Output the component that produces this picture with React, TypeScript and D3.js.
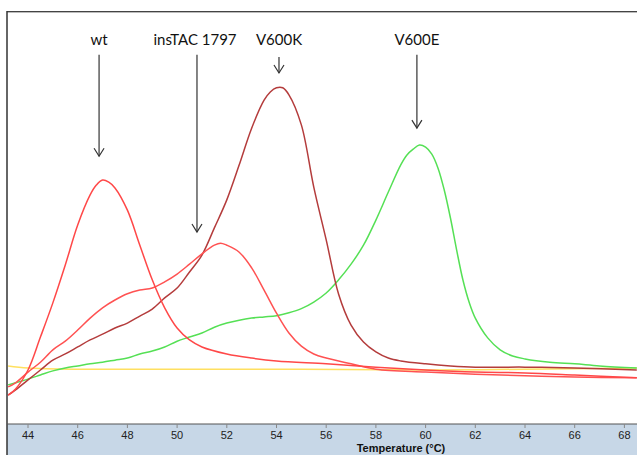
import React from "react";
import * as d3 from "d3";

type Pt = [number, number];

const wtCurve: Pt[] = [
  [43.2, 7.0], [43.5, 8.5], [44, 13.1], [44.5, 21.1], [45, 29.4], [45.5, 38.6],
  [46, 48.3], [46.5, 55.6], [46.75, 58.0], [47, 59.2], [47.25, 58.7], [47.5, 57.3],
  [48, 51.9], [48.5, 43.4], [49, 35.0], [49.5, 28.2], [50, 23.3], [50.5, 20.4],
  [51, 18.7], [52, 17.0], [53, 16.0], [54, 15.3], [56, 14.6], [58, 13.8],
  [60, 13.1], [62, 12.6], [64, 12.4], [66, 11.9], [68.5, 11.2],
];

const insTacCurve: Pt[] = [
  [43.2, 9.0], [43.5, 10.0], [44, 12.6], [44.5, 15.0], [45, 18.0], [45.5, 20.1],
  [46, 22.8], [46.5, 25.7], [47, 28.2], [47.5, 30.1], [48, 31.6], [48.5, 32.5],
  [49, 33.0], [49.5, 34.5], [50, 36.4], [50.5, 38.8], [51, 41.3], [51.5, 43.4],
  [51.75, 43.9], [52, 43.4], [52.5, 41.7], [53, 37.9], [53.5, 32.5], [54, 26.9],
  [54.5, 22.1], [55, 18.9], [55.5, 17.0], [56, 16.0], [57, 14.6], [58, 13.3],
  [60, 12.6], [62, 12.1], [64, 11.7], [66, 11.4], [68.5, 11.2],
];

const v600kCurve: Pt[] = [
  [43.2, 7.0], [43.5, 8.3], [44, 10.7], [44.5, 13.1], [45, 15.5], [45.5, 17.0],
  [46, 18.7], [46.5, 20.4], [47, 21.8], [47.5, 23.3], [48, 24.5], [48.5, 26.2],
  [49, 27.9], [49.5, 30.6], [50, 33.0], [50.5, 36.9], [51, 41.0], [51.5, 47.6],
  [52, 54.4], [52.5, 62.9], [53, 71.8], [53.5, 78.6], [53.75, 80.6], [54, 81.6],
  [54.25, 81.6], [54.5, 79.9], [55, 72.6], [55.5, 57.5], [56, 44.7], [56.5, 31.5],
  [57, 24.0], [57.5, 19.9], [58, 17.5], [58.5, 16.0], [59, 15.3], [60, 14.6],
  [61, 14.1], [62, 13.8], [64, 13.8], [66, 13.6], [68.5, 13.1],
];

const v600eCurve: Pt[] = [
  [43.2, 9.5], [43.5, 10.0], [44, 10.9], [44.5, 11.9], [45, 12.9], [45.5, 13.6],
  [46, 14.1], [46.5, 14.6], [47, 15.0], [47.5, 15.5], [48, 16.0], [48.5, 17.0],
  [49, 17.7], [49.5, 18.7], [50, 20.1], [50.5, 21.1], [51, 22.1], [51.5, 23.5],
  [52, 24.5], [52.5, 25.2], [53, 25.7], [53.5, 26.0], [54, 26.3], [54.5, 27.0],
  [55, 28.0], [55.5, 29.6], [56, 31.8], [56.5, 35.0], [57, 38.8], [57.5, 43.4],
  [58, 49.5], [58.5, 56.3], [59, 62.9], [59.25, 65.3], [59.5, 66.7], [59.75, 67.7],
  [60, 67.2], [60.25, 65.5], [60.5, 62.1], [60.75, 56.8], [61, 50.0], [61.25, 42.2],
  [61.5, 35.0], [61.75, 29.6], [62, 25.7], [62.5, 20.9], [63, 18.0], [63.5, 16.5],
  [64, 15.8], [65, 15.0], [66, 14.6], [67, 14.1], [68.5, 13.6],
];

const ntcCurve: Pt[] = [
  [43.2, 14.1], [44, 13.6], [46, 13.3], [50, 13.3], [55, 13.3], [60, 13.1],
  [64, 13.3], [68.5, 13.6],
];

const xTicks = [44, 46, 48, 50, 52, 54, 56, 58, 60, 62, 64, 66, 68];

const annotations = [
  { label: "wt", labelT: 46.86, arrowT: 46.86, top: 89.6, tip: 65.0 },
  { label: "insTAC 1797", labelT: 50.72, arrowT: 50.8, top: 89.6, tip: 46.6 },
  { label: "V600K", labelT: 54.1, arrowT: 54.1, top: 89.1, tip: 85.2 },
  { label: "V600E", labelT: 59.65, arrowT: 59.65, top: 89.6, tip: 71.8 },
];

const series = [
  { name: "NTC", data: ntcCurve, color: "#ffe060" },
  { name: "V600E", data: v600eCurve, color: "#55e055" },
  { name: "V600K", data: v600kCurve, color: "#b43c3c" },
  { name: "insTAC 1797", data: insTacCurve, color: "#ff5252" },
  { name: "wt", data: wtCurve, color: "#ff4848" },
];

const W = 637;
const H = 455;
const left = 7;
const top = 12;
const axisY = 424;

export default function App() {
  const x = d3.scaleLinear().domain([44, 68]).range([28, 28 + 24 * 24.85]);
  const y = d3.scaleLinear().domain([0, 100]).range([axisY, top]);
  const line = d3
    .line<Pt>()
    .x((d) => x(d[0]))
    .y((d) => y(d[1]))
    .curve(d3.curveCatmullRom.alpha(0.5));

  return (
    <svg
      width={W}
      height={H}
      style={{ position: "absolute", left: 0, top: 0, background: "#fff" }}
    >
      <defs>
        <clipPath id="plot">
          <rect x={left} y={top} width={W - left} height={axisY - top} />
        </clipPath>
      </defs>
      <rect x={0} y={0} width={W} height={H} fill="#fff" />
      <rect x={left} y={axisY} width={W - left} height={H - axisY} fill="#c7d7e7" />
      <g clipPath="url(#plot)">
        {series.map((s) => (
          <path
            key={s.name}
            d={line(s.data) || ""}
            fill="none"
            stroke={s.color}
            strokeWidth={1.5}
          />
        ))}
      </g>
      <line x1={left} y1={top - 0.5} x2={W} y2={top - 0.5} stroke="#444" strokeWidth={1} />
      <line x1={left} y1={top + 0.5} x2={W} y2={top + 0.5} stroke="#bbb" strokeWidth={1} />
      <line x1={left} y1={top - 1} x2={left} y2={H} stroke="#333" strokeWidth={1.5} />
      <line x1={left} y1={axisY} x2={W} y2={axisY} stroke="#555" strokeWidth={1.2} />
      {xTicks.map((t) => (
        <g key={t}>
          <line x1={x(t)} y1={axisY} x2={x(t)} y2={axisY + 4} stroke="#888" strokeWidth={1} />
          <text
            x={x(t)}
            y={439}
            textAnchor="middle"
            fontFamily="Liberation Sans, Arial, sans-serif"
            fontSize={11}
            fill="#222"
          >
            {t}
          </text>
        </g>
      ))}
      <text
        x={401}
        y={451.5}
        textAnchor="middle"
        fontFamily="Liberation Sans, Arial, sans-serif"
        fontSize={11}
        fontWeight="bold"
        fill="#111"
      >
        Temperature (°C)
      </text>
      {annotations.map((a) => {
        const ax = x(a.arrowT);
        const y0 = y(a.top);
        const y1 = y(a.tip);
        return (
          <g key={a.label}>
            <text
              x={x(a.labelT)}
              y={45}
              textAnchor="middle"
              fontFamily="Lato, 'Open Sans', sans-serif"
              fontSize={15}
              fill="#111"
            >
              {a.label}
            </text>
            <line x1={ax} y1={y0} x2={ax} y2={y1} stroke="#333" strokeWidth={1.2} />
            <path
              d={`M${ax - 5},${y1 - 8} L${ax},${y1} L${ax + 5},${y1 - 8}`}
              fill="none"
              stroke="#333"
              strokeWidth={1.2}
            />
          </g>
        );
      })}
    </svg>
  );
}
